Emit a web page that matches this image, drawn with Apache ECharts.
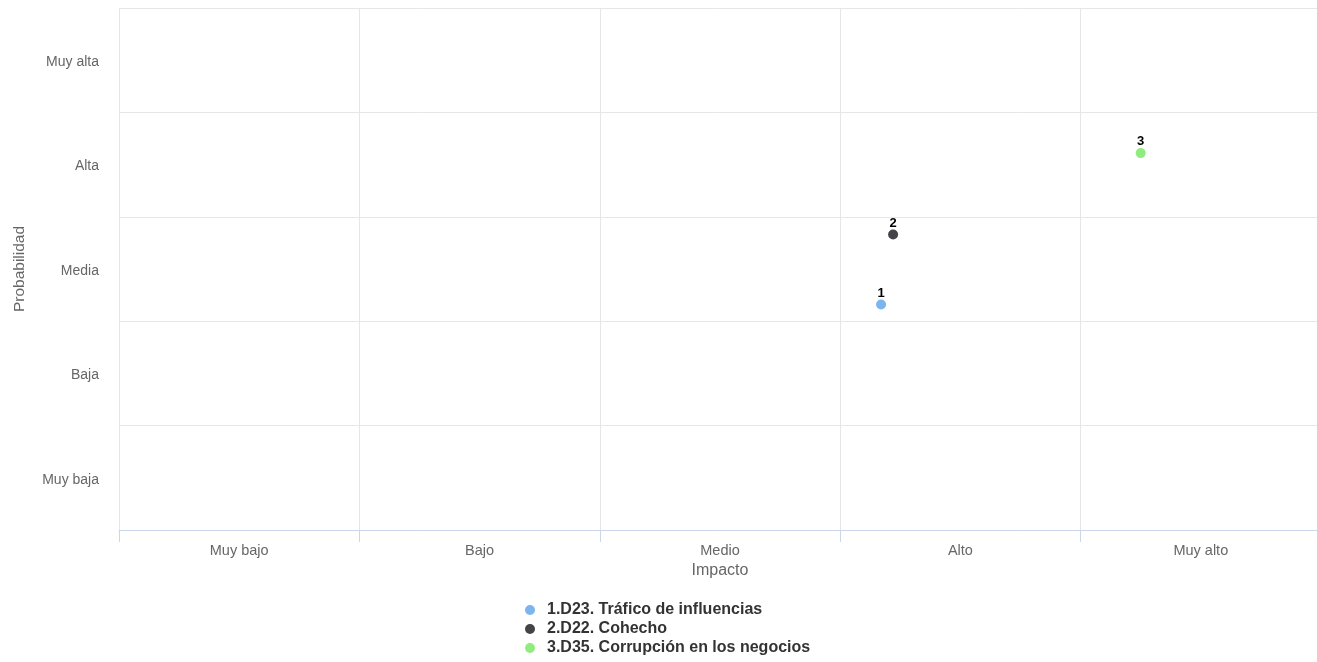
<!DOCTYPE html>
<html>
<head>
<meta charset="utf-8">
<script src="https://cdn.jsdelivr.net/npm/echarts@6/dist/echarts.min.js"></script>
<style>
  html, body { margin: 0; padding: 0; background: #fff; }
  #chart { width: 1317px; height: 662px; }
</style>
</head>
<body>
<div id="chart"></div>
<script>
// mapa de riesgos: impacto x probabilidad
const impactoCats = ['Muy bajo', 'Bajo', 'Medio', 'Alto', 'Muy alto']
const probabilidadCats = ['Muy baja', 'Baja', 'Media', 'Alta', 'Muy alta']
const riesgoNames = ['1.D23. Tráfico de influencias', '2.D22. Cohecho', '3.D35. Corrupción en los negocios']
const riesgoLabels = ['1', '2', '3']
const riesgoImpacto = [3.17, 3.22, 4.25]
const riesgoProb = [2.16, 2.83, 3.61]
const colors = ['#7cb5ec', '#434348', '#90ed7d']

const font = '"Liberation Sans", Arial, sans-serif'

let chart = echarts.init(document.getElementById('chart'))

const series = riesgoNames.map((name, i) => {
  return {
    name: name,
    type: 'scatter',
    xAxisIndex: 1,
    yAxisIndex: 1,
    symbol: 'circle',
    symbolSize: 10,
    itemStyle: { color: colors[i], opacity: 1 },
    label: {
      show: true,
      position: 'top',
      distance: 0,
      formatter: riesgoLabels[i],
      color: '#000',
      fontWeight: 'bold',
      fontSize: 13,
      fontFamily: font
    },
    data: [[riesgoImpacto[i], riesgoProb[i]]]
  }
})

chart.setOption({
  animation: false,
  textStyle: { fontFamily: font },
  grid: { left: 119, top: 8, width: 1202, height: 522, outerBoundsMode: 'none', containLabel: false },
  legend: {
    orient: 'vertical',
    left: 520,
    top: 597,
    height: 80,
    icon: 'circle',
    itemWidth: 14,
    itemHeight: 10,
    itemGap: 3,
    textStyle: {
      color: '#333333',
      fontWeight: 'bold',
      fontSize: 16,
      lineHeight: 15,
      padding: [0, 0, 0, 5],
      fontFamily: font
    },
    data: riesgoNames
  },
  xAxis: [
    {
      type: 'category',
      data: impactoCats,
      boundaryGap: true,
      name: 'Impacto',
      nameLocation: 'middle',
      nameGap: 30,
      nameTextStyle: { color: '#666666', fontSize: 16, fontFamily: font },
      axisLine: { show: true, lineStyle: { color: '#ccd6eb' } },
      axisTick: { show: true, length: 12, lineStyle: { color: '#ccd6eb' } },
      axisLabel: { color: '#666666', fontSize: 14.5, margin: 13, fontFamily: font },
      splitLine: { show: true, lineStyle: { color: '#e6e6e6' } }
    },
    {
      type: 'value',
      min: 0,
      max: 5,
      show: false
    }
  ],
  yAxis: [
    {
      type: 'category',
      data: probabilidadCats,
      boundaryGap: true,
      name: 'Probabilidad',
      nameLocation: 'middle',
      nameGap: 91,
      nameTextStyle: { color: '#666666', fontSize: 15.5, fontFamily: font },
      axisLine: { show: false },
      axisTick: { show: false },
      axisLabel: {
        margin: 20,
        formatter: v => '{a|' + v + '}',
        rich: {
          a: { color: '#666666', fontSize: 14, padding: [4, 0, 0, 0], fontFamily: font }
        }
      },
      splitLine: { show: true, lineStyle: { color: '#e6e6e6' } }
    },
    {
      type: 'value',
      min: 0,
      max: 5,
      show: false
    }
  ],
  series: series
})
</script>
</body>
</html>
